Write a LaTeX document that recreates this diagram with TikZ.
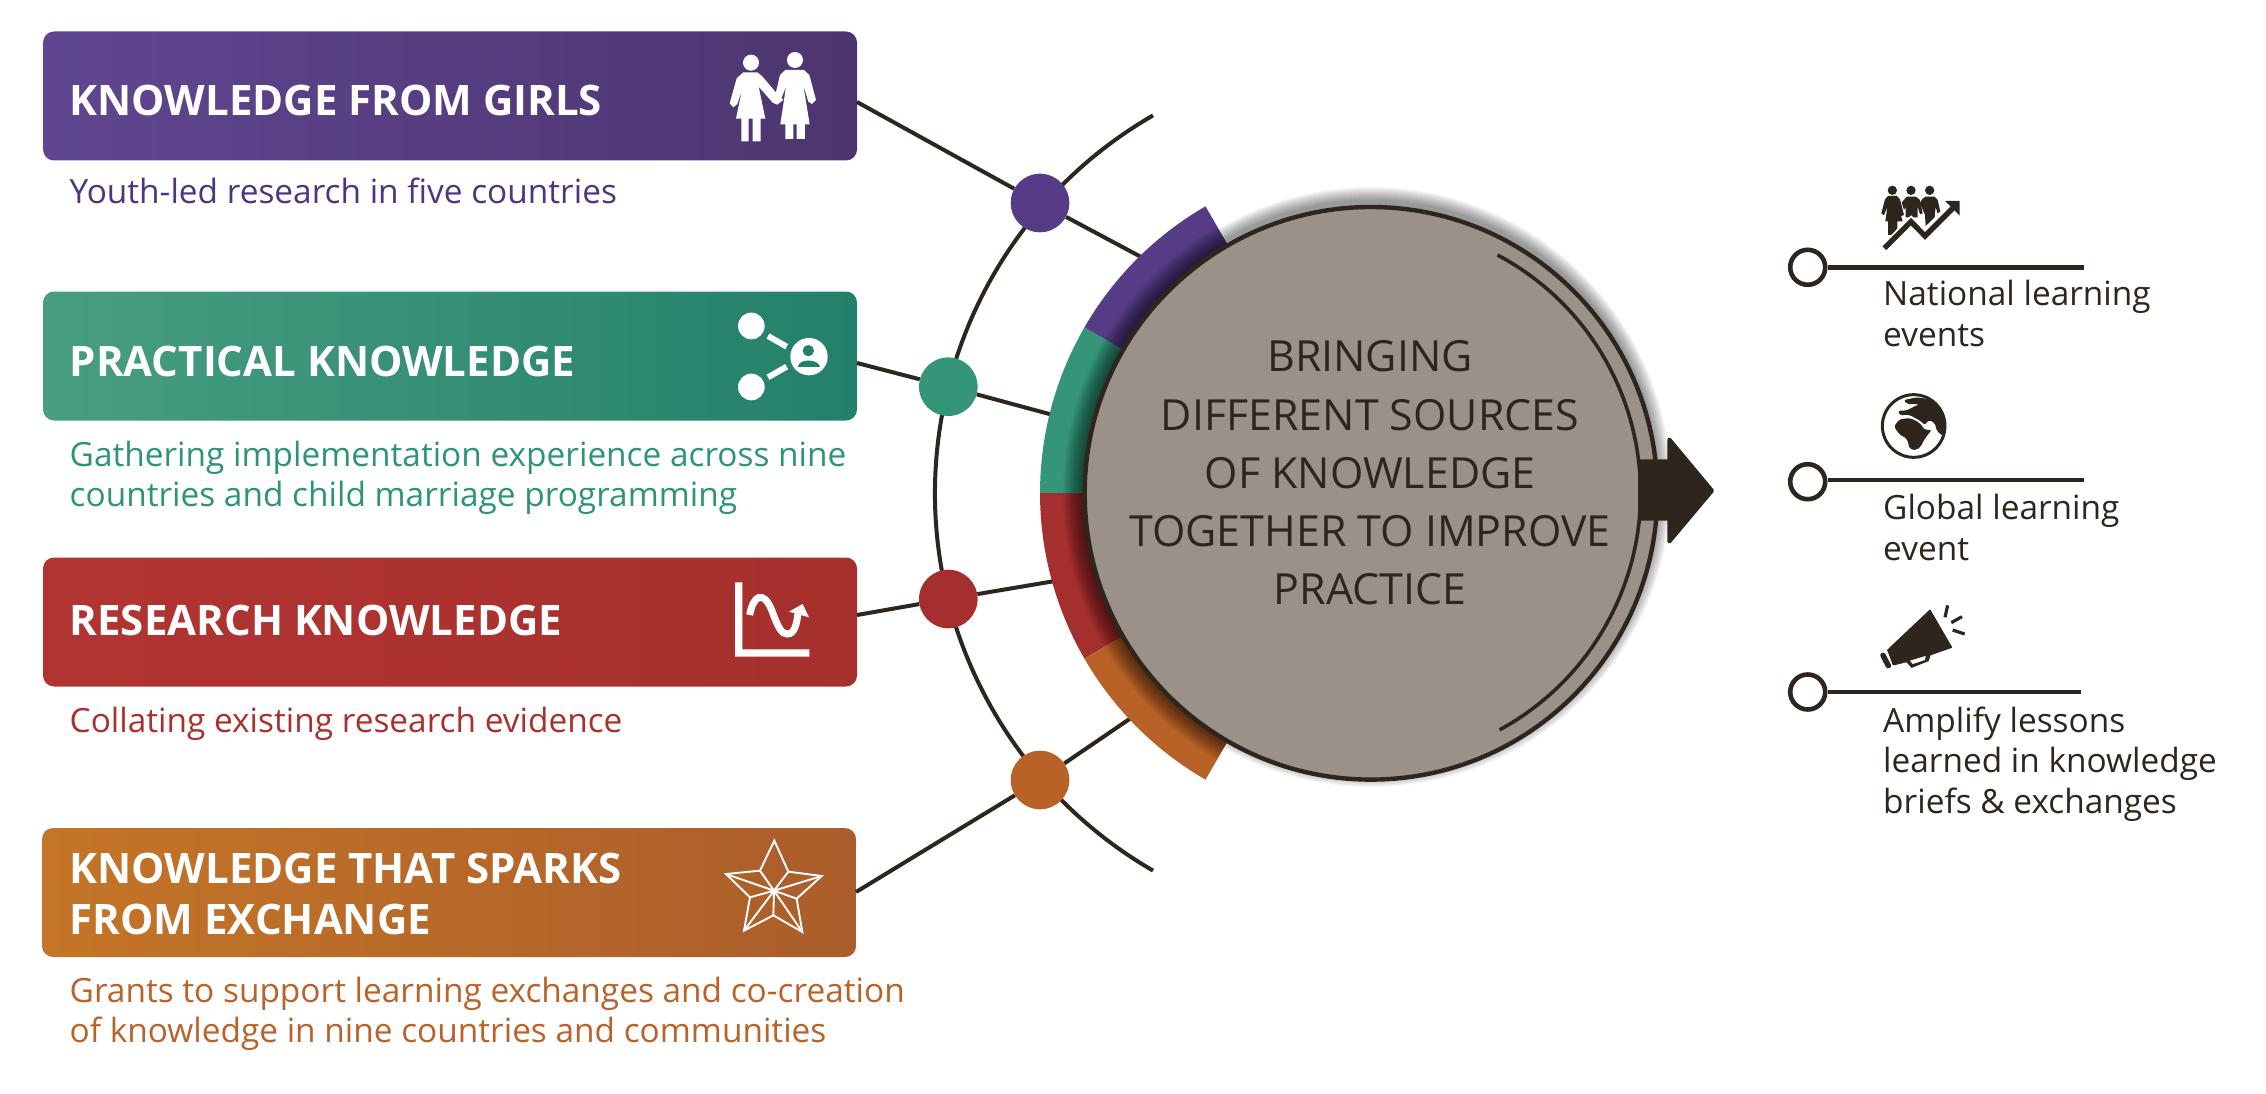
\documentclass[tikz,border=0pt]{standalone}
\usepackage{fontspec}
\setmainfont{Open Sans}
\definecolor{ink}{HTML}{2E261C}
\definecolor{stone}{HTML}{9C9189}
\definecolor{purpleA}{HTML}{5F4690}\definecolor{purpleB}{HTML}{4D3570}\definecolor{purpleT}{HTML}{4F3580}\definecolor{purpleR}{HTML}{563C86}
\definecolor{greenA}{HTML}{489E80}\definecolor{greenB}{HTML}{23806A}\definecolor{greenT}{HTML}{2E9475}\definecolor{greenR}{HTML}{349579}
\definecolor{redA}{HTML}{B23432}\definecolor{redB}{HTML}{A5302C}\definecolor{redT}{HTML}{A8302F}\definecolor{redR}{HTML}{A52F2F}
\definecolor{orangeA}{HTML}{C47527}\definecolor{orangeB}{HTML}{AB5D2B}\definecolor{orangeT}{HTML}{B9622A}\definecolor{orangeR}{HTML}{B86228}
\tikzset{
 box/.style={minimum width=814pt,minimum height=129pt,inner sep=0pt,rounded corners=11pt},
 boxtitle/.style={text=white,inner sep=0pt,anchor=west,align=left,font=\fontsize{42}{51}\selectfont\bfseries},
 subtext/.style={inner sep=0pt,anchor=west,align=left,font=\fontsize{33.4}{40.4}\selectfont},
 sidetext/.style={inner sep=0pt,anchor=west,align=left,text=ink,font=\fontsize{33.4}{40.4}\selectfont},
 dotnode/.style={circle,minimum size=58.6pt,inner sep=0pt},
 link/.style={draw=ink,line width=4pt},
 ringnode/.style={circle,draw=ink,line width=4.6pt,fill=white,minimum size=35pt,inner sep=0pt},
 rail/.style={draw=ink,line width=4.4pt},
 zoomgrid/.style={x=0.3333pt,y=-0.3333pt},
}
\newcommand{\ringseg}[3]{\fill[#1] (#2:331) arc[start angle=#2,end angle=#3,radius=331] -- (#3:280) arc[start angle=#3,end angle=#2,radius=280] -- cycle;}
\begin{document}
\begin{tikzpicture}[x=1pt,y=-1pt]
\useasboundingbox (0,0) rectangle (2266,1094);
% boxes
\node[box,left color=purpleA,right color=purpleB] (boxP) at (450,96) {};
\node[box,left color=greenA,right color=greenB] (boxG) at (450,356) {};
\node[box,left color=redA,right color=redB] (boxR) at (450,622) {};
\node[box,left color=orangeA,right color=orangeB] (boxO) at (449,892.5) {};
\node[boxtitle] (titleP) at (69.5,100.5) {KNOWLEDGE FROM GIRLS};
\node[boxtitle] (titleG) at (69.5,361) {PRACTICAL KNOWLEDGE};
\node[boxtitle] (titleR) at (69.5,620) {RESEARCH KNOWLEDGE};
\node[boxtitle] (titleO) at (69.5,893.5) {KNOWLEDGE THAT SPARKS\\FROM EXCHANGE};
\node[subtext,text=purpleT] (subP) at (69.5,191) {Youth-led research in five countries};
\node[subtext,text=greenT] (subG) at (69.5,478) {Gathering implementation experience across nine\\countries and child marriage programming};
\node[subtext,text=redT] (subR) at (69.5,724) {Collating existing research evidence};
\node[subtext,text=orangeT] (subO) at (69.5,1014) {Grants to support learning exchanges and co-creation\\of knowledge in nine countries and communities};
% outer arc
\begin{scope}[shift={(1371,493)},x=1pt,y=1pt]
 \draw[link] (120:436) arc[start angle=120,end angle=240,radius=436];
\end{scope}
% dots and connectors
\node[dotnode,fill=purpleR] (dotP) at (1040,203) {};
\node[dotnode,fill=greenR] (dotG) at (948.3,386.7) {};
\node[dotnode,fill=redR] (dotR) at (948.3,599) {};
\node[dotnode,fill=orangeR] (dotO) at (1040,780) {};
\coordinate (startP) at (857,102);\coordinate (ringP) at (1143,258);
\coordinate (startG) at (857,363);\coordinate (ringG) at (1053,415);
\coordinate (startR) at (857,615);\coordinate (ringR) at (1055,581);
\coordinate (startO) at (856,892);\coordinate (ringO) at (1131,718);
\draw[link] (startP) -- (dotP); \draw[link] (dotP) -- (ringP);
\draw[link] (startG) -- (dotG); \draw[link] (dotG) -- (ringG);
\draw[link] (startR) -- (dotR); \draw[link] (dotR) -- (ringR);
\draw[link] (startO) -- (dotO); \draw[link] (dotO) -- (ringO);
% soft shadow of the disc
\foreach \s in {1,2,...,14}{
 \fill[black,opacity=0.034] (1371,487) circle[radius=286+\s];
}
% coloured ring
\begin{scope}[shift={(1371,493)},x=1pt,y=1pt]
 \ringseg{purpleR}{120}{150}
 \ringseg{greenR}{150}{180}
 \ringseg{redR}{180}{210}
 \ringseg{orangeR}{210}{240}
 \foreach \w in {2,4,...,44}{
  \draw[black,opacity=0.032,line width=\w pt,line cap=butt] (120:286) arc[start angle=120,end angle=240,radius=286];
 }
\end{scope}
% disc
\node[circle,draw=ink,line width=4.4pt,fill=stone,minimum size=572.6pt,inner sep=0pt] (disc) at (1371,493.3) {};
\node[inner sep=0pt,align=center,text=ink,font=\fontsize{42.9}{58.3}\selectfont] (disctext) at (1370,473) {BRINGING\\DIFFERENT SOURCES\\OF KNOWLEDGE\\TOGETHER TO IMPROVE\\PRACTICE};
\begin{scope}[shift={(1371,493)},x=1pt,y=1pt]
 \draw[ink,line width=3.6pt] (62:269.5) arc[start angle=62,end angle=-61.5,radius=269.5];
\end{scope}
% arrow
\fill[ink,draw=ink,line width=4pt,line join=round] (1640,461.3) -- (1669.3,461.3) -- (1669.3,439.5) -- (1712,490.7) -- (1669.3,541.5) -- (1669.3,518.7) -- (1640,518.7) -- cycle;
% right column
\node[ringnode] (ringA) at (1807.7,267.3) {};
\node[ringnode] (ringB) at (1807.7,481.7) {};
\node[ringnode] (ringC) at (1807.7,692) {};
\coordinate (endA) at (2084,267.3);\coordinate (endB) at (2084,479.7);\coordinate (endC) at (2081,692);
\draw[rail] (ringA) -- (endA);
\draw[rail] (ringB.east |- endB) -- (endB);
\draw[rail] (ringC) -- (endC);
\node[sidetext] (textA) at (1883,313.5) {National learning\\events};
\node[sidetext] (textB) at (1883,527.5) {Global learning\\event};
\node[sidetext] (textC) at (1883,764) {Amplify lessons\\learned in knowledge\\briefs \& exchanges};
% icon girls
\begin{scope}[shift={(680,20)},zoomgrid]
 \fill[white] (213,128) circle[radius=24] (345,120) circle[radius=24];
 \fill[white,line join=round] (190,157) -- (232,157) -- (246,168) -- (290,220) -- (310,240) -- (292,254) -- (278,248) -- (236,200) -- (256,296) -- (242,296) -- (242,364) -- (218,364) -- (218,296) -- (206,296) -- (206,364) -- (184,364) -- (184,296) -- (168,296) -- (186,210) -- (172,252) -- (160,262) -- (149,250) -- (170,175) -- cycle;
 \fill[white,line join=round] (316,150) -- (372,150) -- (388,165) -- (408,240) -- (396,252) -- (385,245) -- (370,195) -- (389,313) -- (375,313) -- (375,357) -- (350,357) -- (350,313) -- (340,313) -- (340,357) -- (316,357) -- (316,313) -- (301,313) -- (318,200) -- (300,245) -- (286,225) -- (300,165) -- cycle;
\end{scope}
% icon share
\begin{scope}[shift={(680,290)},zoomgrid]
 \fill[white] (214,108) circle[radius=40] (214,291) circle[radius=40] (387,200) circle[radius=56];
 \draw[white,line width=6pt] (264,138) -- (320,170) (264,262) -- (320,230);
 \fill[greenB] (385,182) circle[radius=17];
 \fill[greenB] (354,231) .. controls (354,205) and (416,205) .. (420,231) -- cycle;
\end{scope}
% icon chart
\begin{scope}[shift={(680,560)},zoomgrid]
 \fill[white] (165,67) -- (187,67) -- (187,268) -- (388,268) -- (388,290) -- (165,290) -- cycle;
 \draw[white,line width=7pt] (209,165) .. controls (220,105) and (250,90) .. (275,150) .. controls (295,205) and (305,222) .. (322,222) .. controls (345,222) and (350,190) .. (355,155);
 \fill[white] (327,155) -- (368,132) -- (387,172) -- cycle;
\end{scope}
% icon star
\begin{scope}[shift={(680,820)},zoomgrid]
 \draw[white,line width=1.9pt,line join=miter] (283,62) -- (325,155) -- (425,168) -- (350,236) -- (367,336) -- (280,286) -- (192,332) -- (210,232) -- (138,162) -- (240,152) -- cycle;
 \draw[white,line width=1.9pt] (282,212) -- (425,168) (282,212) -- (367,336) (282,212) -- (192,332) (282,212) -- (138,162) (282,212) -- (325,155) (282,212) -- (350,236) (282,212) -- (280,286) (282,212) -- (210,232) (282,212) -- (240,152);
\end{scope}
% icon national events
\begin{scope}[shift={(1760,160)},zoomgrid]
 \fill[ink] (397,91) circle[radius=14] (453,91) circle[radius=14] (509,91) circle[radius=14];
 \fill[ink] (384,108) -- (411,108) -- (420,118) -- (432,165) -- (424,168) -- (415,140) -- (428,184) -- (412,184) -- (412,205) -- (396,225) -- (384,225) -- (384,184) -- (376,184) -- (382,140) -- (372,166) -- (364,160) -- (375,118) -- cycle;
 \fill[ink] (440,110) -- (468,110) -- (480,120) -- (488,160) -- (480,163) -- (473,140) -- (473,172) -- (437,172) -- (437,140) -- (432,150) -- (425,128) -- cycle;
 \fill[ink] (496,110) -- (524,110) -- (533,120) -- (541,155) -- (532,160) -- (527,140) -- (524,172) -- (497,198) -- (495,165) -- (480,130) -- (486,118) -- cycle;
 \draw[white,line width=9pt] (373,265) -- (453,185) -- (495,228) -- (578,145);
 \draw[ink,line width=5.4pt] (373,265) -- (453,185) -- (495,228) -- (578,145);
 \fill[ink] (555,123) -- (599,123) -- (599,167) -- cycle;
\end{scope}
% icon globe
\begin{scope}[shift={(1760,380)},zoomgrid]
 \draw[ink,line width=3pt] (461,138) circle[radius=94];
 \fill[ink,rounded corners=2pt] (470,52) -- (510,58) -- (540,85) -- (554,125) -- (548,168) -- (530,152) -- (524,128) -- (505,120) -- (495,135) -- (480,122) -- (447,104) -- (418,106) -- (415,92) -- (438,92) -- (478,72) -- (440,72) -- (432,60) -- cycle;
 \fill[ink,rounded corners=2pt] (402,140) -- (418,118) -- (450,114) -- (478,128) -- (495,150) -- (515,150) -- (495,175) -- (482,200) -- (470,210) -- (450,208) -- (440,175) -- (420,165) -- cycle;
\end{scope}
% icon megaphone
\begin{scope}[shift={(1760,590)},zoomgrid]
 \fill[ink,line join=round,draw=ink,line width=1pt] (383,180) -- (510,60) -- (575,172) -- (510,195) -- (505,212) -- (455,232) -- (440,215) -- (400,225) -- cycle;
 \fill[white] (450,212) -- (497,198) -- (495,210) -- (458,222) -- cycle;
 \draw[ink,line width=5.5pt,line cap=round] (369,196) -- (385,227);
 \draw[ink,line width=3.2pt] (563,46) -- (555,82) (606,80) -- (574,98) (578,120) -- (614,132);
\end{scope}
\end{tikzpicture}
\end{document}
